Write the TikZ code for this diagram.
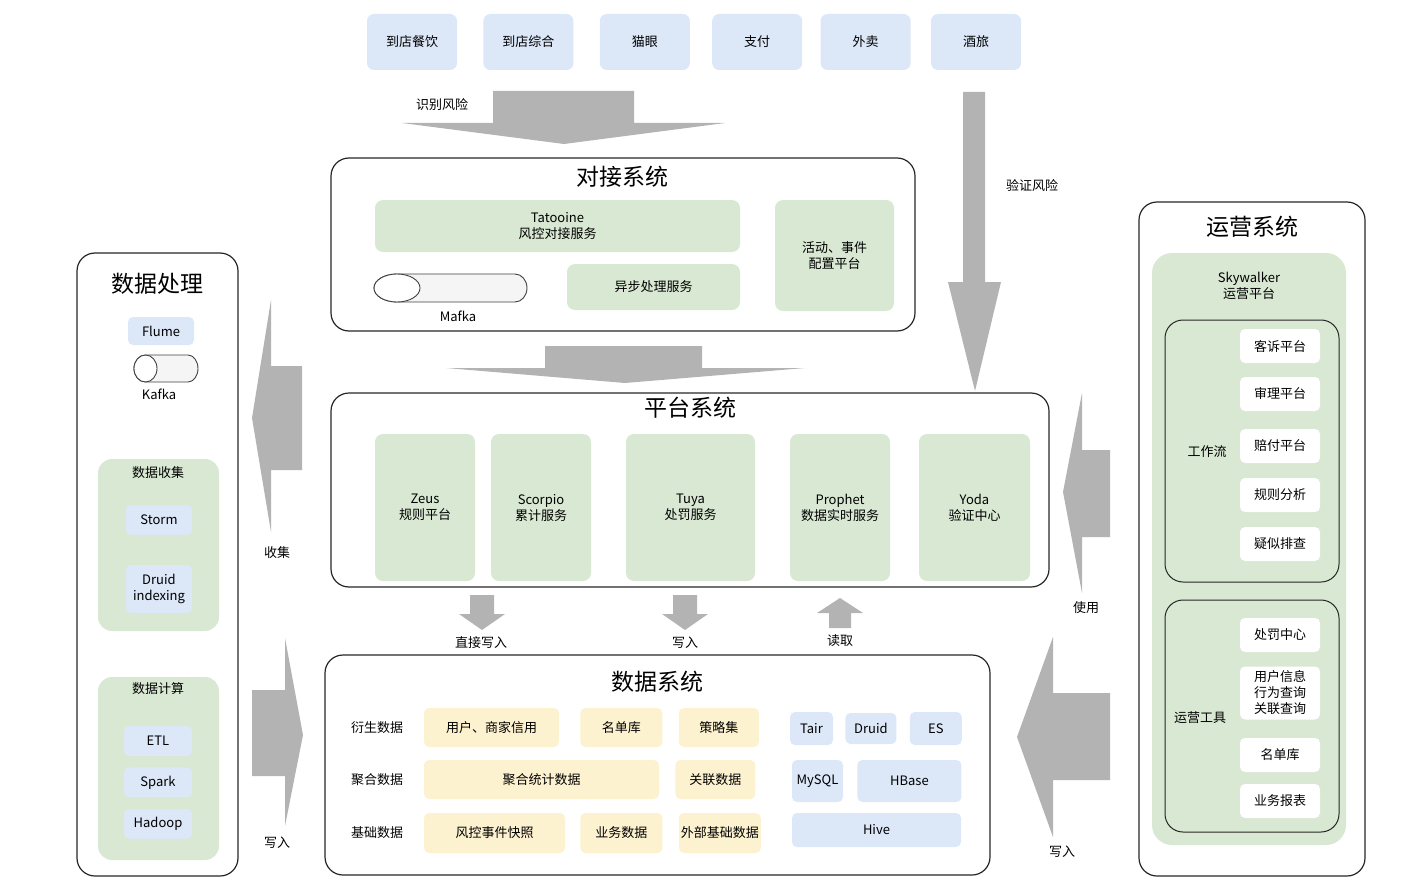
\documentclass[tikz,border=0pt]{standalone}
\usepackage{fontspec}
\setmainfont{Noto Sans CJK SC}
\usetikzlibrary{positioning}
\definecolor{boxGreen}{HTML}{D9E8D3}
\definecolor{boxBlue}{HTML}{DCE7F8}
\definecolor{boxYellow}{HTML}{FDF2D0}
\definecolor{arrowGray}{HTML}{B3B3B3}

\begin{document}
\begin{tikzpicture}[x=1pt, y=-1pt,
              font=\fontsize{13}{16}\selectfont,
              sysBox/.style={
                draw=black!85, line width=1.2pt, rounded corners=18pt
             },
              sysTitle/.style={font=\fontsize{23}{26}\selectfont},
              greenBlock/.style={
                fill=boxGreen, rounded corners=8pt, inner sep=0pt, align=center
             },
              blueBlock/.style={
                fill=boxBlue, rounded corners=5pt, inner sep=0pt, align=center
             },
              topBlock/.style={
                blueBlock, rounded corners=7pt, minimum width=90pt, minimum height=56pt
             },
              yellowBlock/.style={
                fill=boxYellow, rounded corners=5pt, inner sep=0pt, align=center,
                minimum height=39pt
             },
              whiteBlock/.style={
                fill=white, rounded corners=5pt, inner sep=0pt, align=center,
                minimum width=80pt, minimum height=34pt
             },
              bigArrow/.style={fill=arrowGray},
              pipe/.style={draw=black!75, line width=0.9pt, fill=black!4}
             ]
  \useasboundingbox (0,0) rectangle (1406,880);

  % business lines
  \node[topBlock] (dine) at (412,42) {到店餐饮};
  \node[topBlock, right=26pt of dine] (store) {到店综合};
  \node[topBlock, right=26pt of store] (maoyan) {猫眼};
  \node[topBlock, right=22pt of maoyan] (pay) {支付};
  \node[topBlock, right=18pt of pay] (waimai) {外卖};
  \node[topBlock, right=20pt of waimai] (hotel) {酒旅};

  % access system
  \node[sysBox, minimum width=584pt, minimum height=173pt] (dock) at (623,244.5) {};
  \node[sysTitle] (dockT) at (622,177) {对接系统};
  \node[greenBlock, minimum width=365pt, minimum height=52pt] (tatooine) at (557.5,226) {Tatooine\\风控对接服务};
  \node[greenBlock, minimum width=173pt, minimum height=46pt] (async) at (653.5,287) {异步处理服务};
  \node[greenBlock, minimum width=119pt, minimum height=111pt] (event) at (834.5,255.5) {活动、事件\\配置平台};
  \draw[pipe] (397,274) -- (515,274) arc[start angle=-90, end angle=90, x radius=12, y radius=14]
    -- (397,302) arc[start angle=90, end angle=270, x radius=23, y radius=14] -- cycle;
  \draw[pipe, fill=white] (397,288) ellipse[x radius=23, y radius=14];
  \node (mafka) at (458,316) {Mafka};

  % platform system
  \node[sysBox, minimum width=718pt, minimum height=194pt] (plat) at (690,490) {};
  \node[sysTitle] (platT) at (690,408) {平台系统};
  \node[greenBlock, minimum width=100pt, minimum height=147pt] (zeus) at (425,507.5) {Zeus\\规则平台};
  \node[greenBlock, minimum width=100pt, minimum height=147pt] (scorpio) at (541,507.5) {Scorpio\\累计服务};
  \node[greenBlock, minimum width=129pt, minimum height=147pt] (tuya) at (690.5,507.5) {Tuya\\处罚服务};
  \node[greenBlock, minimum width=100pt, minimum height=147pt] (prophet) at (840,507.5) {Prophet\\数据实时服务};
  \node[greenBlock, minimum width=111pt, minimum height=147pt] (yoda) at (974.5,507.5) {Yoda\\验证中心};

  % data system
  \node[sysBox, minimum width=665pt, minimum height=220pt] (data) at (657.5,765) {};
  \node[sysTitle] (dataT) at (657,682) {数据系统};
  \node (derived) at (377,728) {衍生数据};
  \node (aggr) at (377,780) {聚合数据};
  \node (basic) at (377,833) {基础数据};
  \node[yellowBlock, minimum width=135pt] (credit) at (491.5,727.5) {用户、商家信用};
  \node[yellowBlock, minimum width=82pt, right=21pt of credit] (names) {名单库};
  \node[yellowBlock, minimum width=80pt, right=16pt of names] (strategy) {策略集};
  \node[yellowBlock, minimum width=235pt] (stats) at (541.5,779.5) {聚合统计数据};
  \node[yellowBlock, minimum width=80pt, right=16pt of stats] (assoc) {关联数据};
  \node[yellowBlock, minimum width=141pt, minimum height=40pt] (snapshot) at (494.5,833) {风控事件快照};
  \node[yellowBlock, minimum width=82pt, minimum height=40pt, right=15pt of snapshot] (bizdata) {业务数据};
  \node[yellowBlock, minimum width=82pt, minimum height=40pt, right=16pt of bizdata] (extdata) {外部基础数据};
  \node[blueBlock, minimum width=43pt, minimum height=33pt] (tair) at (811.5,728.5) {Tair};
  \node[blueBlock, minimum width=51pt, minimum height=31pt, right=12pt of tair] (druid) {Druid};
  \node[blueBlock, minimum width=52pt, minimum height=33pt, right=13pt of druid] (es) {ES};
  \node[blueBlock, minimum width=51pt, minimum height=42pt] (mysql) at (817.5,781) {MySQL};
  \node[blueBlock, minimum width=104pt, minimum height=42pt, right=14pt of mysql] (hbase) {HBase};
  \node[blueBlock, minimum width=169pt, minimum height=34pt] (hive) at (876.5,830) {Hive};

  % data processing
  \node[sysBox, minimum width=161pt, minimum height=623pt] (proc) at (157.5,564.5) {};
  \node[sysTitle] (procT) at (157,284) {数据处理};
  \node[blueBlock, minimum width=66pt, minimum height=28pt] (flume) at (161,331) {Flume};
  \draw[pipe] (145.5,355) -- (188,355) arc[start angle=-90, end angle=90, x radius=10, y radius=13.5]
    -- (145.5,382) arc[start angle=90, end angle=270, x radius=11.5, y radius=13.5] -- cycle;
  \draw[pipe, fill=white] (145.5,368.5) ellipse[x radius=11.5, y radius=13.5];
  \node (kafka) at (159,394) {Kafka};
  \node[greenBlock, rounded corners=14pt, minimum width=121pt, minimum height=172pt] (collect) at (158.5,545) {};
  \node (collectT) at (158,473) {数据收集};
  \node[blueBlock, minimum width=66pt, minimum height=30pt] (storm) at (159,520) {Storm};
  \node[blueBlock, minimum width=66pt, minimum height=48pt] (indexing) at (159,589) {Druid\\indexing};
  \node[greenBlock, rounded corners=14pt, minimum width=121pt, minimum height=183pt] (compute) at (158.5,768.5) {};
  \node (computeT) at (158,689) {数据计算};
  \node[blueBlock, minimum width=68pt, minimum height=30pt] (etl) at (158,741) {ETL};
  \node[blueBlock, minimum width=68pt, minimum height=30pt, below=11pt of etl] (spark) {Spark};
  \node[blueBlock, minimum width=68pt, minimum height=30pt, below=11pt of spark] (hadoop) {Hadoop};

  % operation system
  \node[sysBox, minimum width=226pt, minimum height=674pt] (ops) at (1252,539) {};
  \node[sysTitle] (opsT) at (1252,227) {运营系统};
  \node[greenBlock, rounded corners=20pt, minimum width=194pt, minimum height=592pt] (sky) at (1249,549) {};
  \node[align=center] (skyT) at (1249,286) {Skywalker\\运营平台};
  \node[sysBox, line width=1pt, minimum width=174pt, minimum height=262pt] (flow) at (1252,451) {};
  \node (flowT) at (1207,452) {工作流};
  \node[whiteBlock] (complain) at (1280,346) {客诉平台};
  \node[whiteBlock] (review) at (1280,394) {审理平台};
  \node[whiteBlock] (compensate) at (1280,446) {赔付平台};
  \node[whiteBlock] (rules) at (1280,495) {规则分析};
  \node[whiteBlock] (suspect) at (1280,544) {疑似排查};
  \node[sysBox, line width=1pt, minimum width=174pt, minimum height=232pt] (tools) at (1252,716) {};
  \node (toolsT) at (1200,718) {运营工具};
  \node[whiteBlock] (punish) at (1280,635) {处罚中心};
  \node[whiteBlock, minimum height=53pt] (query) at (1280,693) {用户信息\\行为查询\\关联查询};
  \node[whiteBlock] (blacklist) at (1280,755) {名单库};
  \node[whiteBlock] (report) at (1280,801) {业务报表};

  % block arrows
  \fill[bigArrow] (493,91) -- (634,91) -- (634,123) -- (725,123) -- (564,144) -- (402,123) -- (493,123) -- cycle;
  \node (identify) at (442,105) {识别风险};
  \fill[bigArrow] (963,92) -- (985,92) -- (985,282) -- (1001,282) -- (975,391) -- (948,282) -- (963,282) -- cycle;
  \node (verify) at (1032,186) {验证风险};
  \fill[bigArrow] (545,346) -- (702,346) -- (702,368) -- (805,368) -- (625,383) -- (446,368) -- (545,368) -- cycle;
  \fill[bigArrow] (470,595) -- (494,595) -- (494,614) -- (505,614) -- (482,630) -- (459,614) -- (470,614) -- cycle;
  \node (direct) at (481,643) {直接写入};
  \fill[bigArrow] (673,595) -- (697,595) -- (697,614) -- (708,614) -- (685,630) -- (662,614) -- (673,614) -- cycle;
  \node (write) at (685,643) {写入};
  \fill[bigArrow] (829,628) -- (851,628) -- (851,613) -- (863,613) -- (840,598) -- (817,613) -- (829,613) -- cycle;
  \node (read) at (840,641) {读取};
  \fill[bigArrow] (302,366) -- (302,470) -- (271,470) -- (271,532) -- (252,418) -- (271,300) -- (271,366) -- cycle;
  \node (gather) at (277,553) {收集};
  \fill[bigArrow] (252,690) -- (285,690) -- (285,638) -- (303,735) -- (285,826) -- (285,776) -- (252,776) -- cycle;
  \node (writeL) at (277,843) {写入};
  \fill[bigArrow] (1110,450) -- (1110,537) -- (1082,537) -- (1082,593) -- (1063,492) -- (1082,393) -- (1082,450) -- cycle;
  \node (use) at (1086,608) {使用};
  \fill[bigArrow] (1110,693) -- (1110,780) -- (1053,780) -- (1053,837) -- (1017,737) -- (1053,637) -- (1053,693) -- cycle;
  \node (writeR) at (1062,852) {写入};
\end{tikzpicture}
\end{document}
